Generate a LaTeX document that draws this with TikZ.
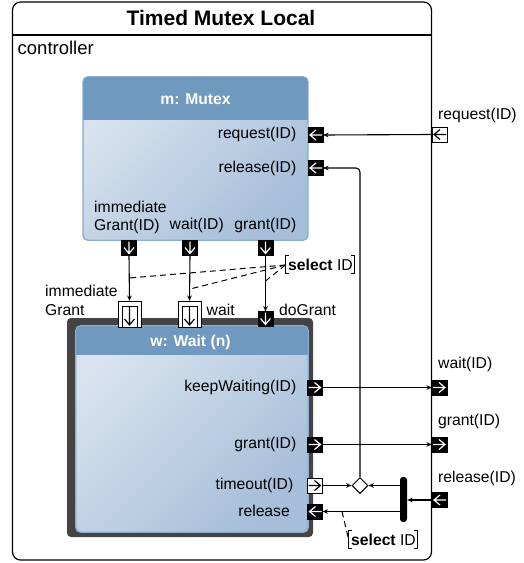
\documentclass[tikz,border=0pt]{standalone}
\usepackage{fontspec}
\setmainfont{Liberation Sans}
\usetikzlibrary{arrows.meta,shapes.geometric}
\definecolor{headblue}{HTML}{7099C0}
\definecolor{bodylight}{HTML}{D8E3EF}
\definecolor{bodydark}{HTML}{A6BED9}
\definecolor{boxedge}{HTML}{8DAED0}
\definecolor{darkframe}{HTML}{444444}
\begin{document}
\begin{tikzpicture}[x=1pt,y=-1pt,
  lbl/.style={font=\fontsize{15.7}{18}\selectfont, inner sep=0pt, text height=11.2pt, text depth=0pt},
  arr/.style={line width=1.1pt, -{Stealth[length=5.5pt,width=4.5pt]}},
  portbase/.style={minimum width=15pt, minimum height=15pt, inner sep=0pt, outer sep=0pt, line width=0.8pt},
  blk/.style={portbase, fill=black, draw=black},
  wht/.style={portbase, fill=white, draw=black},
  pleft/.style={path picture={\draw[#1, line width=1.2pt, line join=miter]
      ([xshift=-1pt]path picture bounding box.east) -- ([xshift=2pt]path picture bounding box.west)
      ([xshift=8pt,yshift=5pt]path picture bounding box.west) -- ([xshift=2pt]path picture bounding box.west) -- ([xshift=8pt,yshift=-5pt]path picture bounding box.west);}},
  pright/.style={path picture={\draw[#1, line width=1.2pt, line join=miter]
      ([xshift=1pt]path picture bounding box.west) -- ([xshift=-2pt]path picture bounding box.east)
      ([xshift=-8pt,yshift=5pt]path picture bounding box.east) -- ([xshift=-2pt]path picture bounding box.east) -- ([xshift=-8pt,yshift=-5pt]path picture bounding box.east);}},
  pdown/.style={path picture={\draw[#1, line width=1.2pt, line join=miter]
      ([yshift=-1pt]path picture bounding box.north) -- ([yshift=2pt]path picture bounding box.south)
      ([xshift=5pt,yshift=8pt]path picture bounding box.south) -- ([yshift=2pt]path picture bounding box.south) -- ([xshift=-5pt,yshift=8pt]path picture bounding box.south);}},
  boxbody/.style={draw=boxedge, line width=0.9pt, rounded corners=5pt, top color=bodylight, bottom color=bodydark, shading angle=45, inner sep=0pt},
  sel/.style={line width=1pt},
  seldash/.style={line width=1pt, dash pattern=on 6pt off 4pt}
]
\useasboundingbox (0,0) rectangle (523,563);
\fill[white] (0,0) rectangle (523,563);

% outer frame
\draw[line width=1.2pt, rounded corners=8pt] (12.5,2) rectangle (431.5,560);
\draw[line width=1.2pt] (12.5,35) -- (431.5,35);
\node[inner sep=0pt, font=\bfseries\fontsize{21}{24}\selectfont, text height=15pt, text depth=0pt] (title) at (221,18) {Timed Mutex Local};
\node[inner sep=0pt, anchor=west, font=\fontsize{18.5}{21}\selectfont, text height=13.2pt, text depth=0pt] (ctrl) at (17.5,48) {controller};

% Mutex box
\node[boxbody, minimum width=224.5pt, minimum height=163pt] (mutex) at (195.5,158.5) {};
\begin{scope}
  \clip[rounded corners=5pt] (mutex.north west) rectangle (mutex.south east);
  \fill[headblue] (mutex.north west) rectangle ([yshift=-43pt]mutex.north east);
\end{scope}
\draw[boxedge, line width=0.9pt, rounded corners=5pt] (mutex.north west) rectangle (mutex.south east);
\node[lbl, text=white, font=\bfseries\fontsize{15.7}{18}\selectfont] (mtitle) at (195.5,98.5) {m: Mutex};
\node[lbl, anchor=east] (lreq) at (296.5,133) {request(ID)};
\node[lbl, anchor=east] (lrel) at (296.5,167) {release(ID)};
\node[lbl, anchor=west] (limm) at (94,207) {immediate};
\node[lbl, anchor=west] (lgr) at (94,225) {Grant(ID)};
\node[lbl, anchor=west] (lwait) at (169.5,223.5) {wait(ID)};
\node[lbl, anchor=east] (lgrant) at (296.5,223.5) {grant(ID)};

% Wait box
\node[fill=darkframe, rounded corners=4pt, minimum width=246pt, minimum height=219pt, inner sep=0pt] (wframe) at (190,427.5) {};
\node[boxbody, minimum width=232pt, minimum height=206pt] (wait) at (192,429) {};
\begin{scope}
  \clip[rounded corners=5pt] (wait.north west) rectangle (wait.south east);
  \fill[headblue] (wait.north west) rectangle ([yshift=-29pt]wait.north east);
\end{scope}
\draw[boxedge, line width=0.9pt, rounded corners=5pt] (wait.north west) rectangle (wait.south east);
\node[lbl, text=white, font=\bfseries\fontsize{15.7}{18}\selectfont] (wtitle) at (190.5,341) {w: Wait (n)};
\node[lbl, anchor=east] (lkeep) at (296.5,386) {keepWaiting(ID)};
\node[lbl, anchor=east] (lwgr) at (296.5,443) {grant(ID)};
\node[lbl, anchor=east] (lto) at (293.5,484) {timeout(ID)};
\node[lbl, anchor=east] (lwrel) at (290,510.5) {release};

% labels near wait top
\node[lbl, anchor=west] (limm2) at (45,291) {immediate};
\node[lbl, anchor=west] (lgr2) at (45,310) {Grant};
\node[lbl, anchor=west] (lwait2) at (206.5,310) {wait};
\node[lbl, anchor=west] (ldo) at (279,310) {doGrant};

% frame labels
\node[lbl, anchor=west] (fl1) at (438,114) {request(ID)};
\node[lbl, anchor=west] (fl2) at (438,363) {wait(ID)};
\node[lbl, anchor=west] (fl3) at (438,420) {grant(ID)};
\node[lbl, anchor=west] (fl4) at (438,477) {release(ID)};

% mutex ports
\node[blk, pleft=white] (mreq) at (315.5,135) {};
\node[blk, pleft=white] (mrel) at (315.5,168) {};
\node[blk, pdown=white] (mig) at (129,248) {};
\node[blk, pdown=white] (mwait) at (190,248) {};
\node[blk, pdown=white] (mgrant) at (265.5,248) {};

% wait top ports
\node[wht, minimum width=23pt, minimum height=26pt] (wigo) at (129.5,314) {};
\node[wht, minimum width=15pt, minimum height=21pt, pdown=black] (wigi) at (129.5,316.5) {};
\node[wht, minimum width=23pt, minimum height=26pt] (wwo) at (189.5,314) {};
\node[wht, minimum width=15pt, minimum height=21pt, pdown=black] (wwi) at (189.5,316.5) {};
\node[blk, pdown=white] (wdo) at (265.5,319) {};

% wait right ports
\node[blk, pright=white] (wkeep) at (315,387.5) {};
\node[blk, pright=white] (wgrant) at (315,444.5) {};
\node[wht, pright=black] (wto) at (315,485.5) {};
\node[blk, pleft=white] (wrel) at (315,511.5) {};

% frame ports
\node[wht, pleft=black] (freq) at (439.5,134.5) {};
\node[blk, pright=white] (fwait) at (439.5,387.5) {};
\node[blk, pright=white] (fgrant) at (439.5,444.5) {};
\node[blk, pleft=white] (frel) at (439.5,500) {};

% merge diamond and fork bar
\node[diamond, draw, fill=white, line width=1pt, minimum width=16pt, minimum height=16pt, inner sep=0pt, shape aspect=1] (diam) at (360,485.5) {};
\node[fill=black, rounded corners=3pt, minimum width=7pt, minimum height=45pt, inner sep=0pt] (bar) at (403.5,499.5) {};

% connectors
\draw[arr] (freq.west) -- (mreq.east);
\draw[arr, rounded corners=4pt] (diam.north) |- (mrel.east);
\draw[arr] (wkeep.east) -- (fwait.west);
\draw[arr] (wgrant.east) -- (fgrant.west);
\draw[arr] (wto.east) -- (diam.west);
\draw[arr] (bar.west |- diam.east) -- (diam.east);
\draw[arr] (bar.west |- wrel.east) -- (wrel.east);
\draw[arr] (frel.west) -- (bar.east |- frel.west);
\draw[arr] (mig.south) -- (wigo.north);
\draw[arr] (mwait.south) -- (wwo.north);
\draw[arr] (mgrant.south) -- (wdo.north);

% select ID (top)
\node[lbl, anchor=west] (sel1) at (288,265) {\textbf{select} ID};
\draw[sel] (289,255.5) -- (285.5,255.5) -- (285.5,273.5) -- (289,273.5);
\draw[sel] (351,255.5) -- (354.5,255.5) -- (354.5,273.5) -- (351,273.5);
\coordinate (d1) at (129,278);
\coordinate (d2) at (190,289);
\coordinate (d3) at (265.5,281);
\coordinate (s1) at (285.5,265);
\draw[seldash] (s1) -- (d1);
\draw[seldash] (s1) -- (d2);
\draw[seldash] (s1) -- (d3);

% select ID (bottom)
\node[lbl, anchor=west] (sel2) at (351,540) {\textbf{select} ID};
\draw[sel] (352,530.5) -- (348.5,530.5) -- (348.5,548.5) -- (352,548.5);
\draw[sel] (414,530.5) -- (417.5,530.5) -- (417.5,548.5) -- (414,548.5);
\coordinate (d4) at (342,511.5);
\coordinate (s2) at (348.5,539);
\draw[seldash] (d4) -- (s2);
\end{tikzpicture}
\end{document}
